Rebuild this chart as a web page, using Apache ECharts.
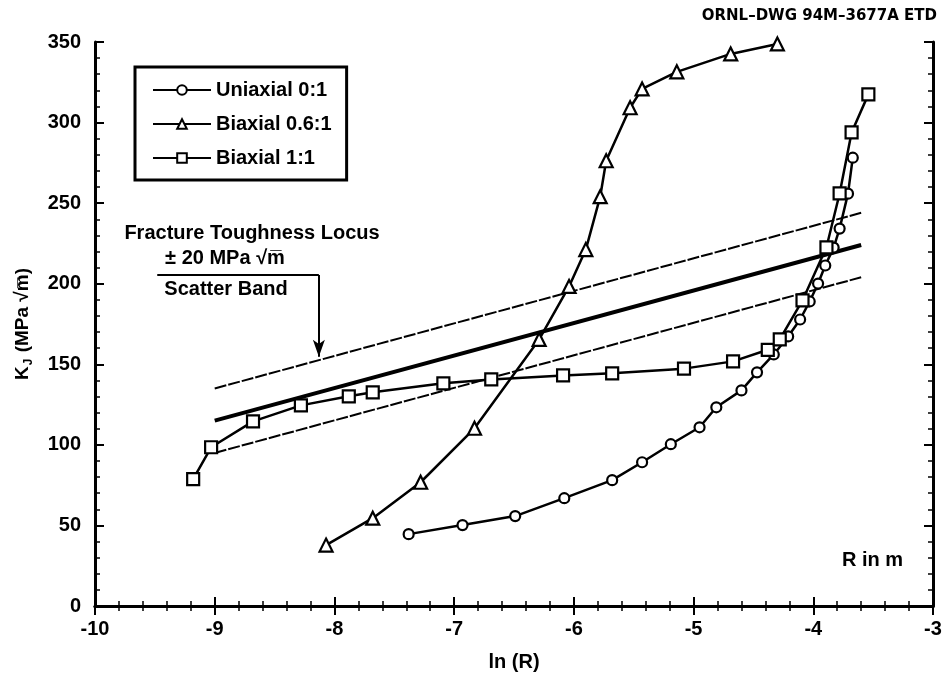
<!DOCTYPE html>
<html>
<head>
<meta charset="utf-8">
<script src="https://cdn.jsdelivr.net/npm/echarts@6/dist/echarts.min.js"></script>
<style>
  html, body { margin: 0; padding: 0; background: #fff; }
  #chart { width: 946px; height: 677px; }
</style>
</head>
<body>
<div id="chart"></div>
<script>
// K_J versus ln(R) for three load ratios
const uniaxialLnR = [-7.38, -6.93, -6.49, -6.08, -5.68, -5.43, -5.19, -4.95, -4.81, -4.60, -4.47,
                     -4.33, -4.21, -4.11, -4.03, -3.96, -3.90, -3.83, -3.78, -3.71, -3.67];
const uniaxialKJ  = [44.6, 50.2, 55.8, 66.9, 78.1, 89.2, 100.4, 110.9, 123.3, 133.8, 145.0,
                     156.1, 167.3, 177.8, 189.0, 200.1, 211.3, 222.4, 234.2, 255.9, 278.2];

const biaxial06LnR = [-8.07, -7.68, -7.28, -6.83, -6.29, -6.04, -5.90, -5.78, -5.73, -5.53, -5.43,
                      -5.14, -4.69, -4.30];
const biaxial06KJ  = [37.8, 54.5, 76.8, 110.3, 165.4, 198.3, 221.2, 254.0, 276.3, 309.2, 320.9,
                      331.5, 342.6, 348.8];

const biaxial11LnR = [-9.18, -9.03, -8.68, -8.28, -7.88, -7.68, -7.09, -6.69, -6.09, -5.68, -5.08,
                      -4.67, -4.38, -4.28, -4.09, -3.89, -3.78, -3.68, -3.54];
const biaxial11KJ  = [78.7, 98.5, 114.6, 124.5, 130.1, 132.6, 138.2, 140.6, 143.1, 144.4, 147.3,
                      151.8, 159.0, 165.4, 189.6, 222.6, 256.0, 293.9, 317.5];

// Fracture toughness locus and its +/- 20 MPa sqrt(m) scatter band
const locusLnR = [-9.0, -3.6];
const locusKJ  = [115, 224];
const bandHalfWidth = 20;

// Bracket and arrow pointing at the upper edge of the band
const bracketLnR = [-9.48, -8.13, -8.13];
const bracketKJ  = [205.4, 205.4, 154.7];

// Axis ticks
const xTicks = [-10, -9, -8, -7, -6, -5, -4, -3];
const yTicks = [0, 50, 100, 150, 200, 250, 300, 350];

const seriesNames = ['Uniaxial 0:1', 'Biaxial 0.6:1', 'Biaxial 1:1'];

const zip = (xs, ys) => xs.map((x, i) => [x, ys[i]]);
const FONT = '"Liberation Sans", Arial, Helvetica, sans-serif';
const INK = '#000';

// Ticks point into the plotting area on all four sides (negative length flips them inward)
const axisCommon = {
  type: 'value',
  axisLine: { show: true, lineStyle: { color: INK, width: 3 } },
  axisTick: { show: true, inside: false, length: -9, lineStyle: { color: INK, width: 2 } },
  minorTick: { show: true, splitNumber: 5, length: -5, lineStyle: { color: INK, width: 1.5 } },
  splitLine: { show: false },
  minorSplitLine: { show: false }
};

const chart = echarts.init(document.getElementById('chart'), null, { renderer: 'canvas' });

const symbolSeries = (name, xs, ys, symbol, size) => ({
  name: name,
  type: 'line',
  data: zip(xs, ys),
  symbol: symbol,
  symbolSize: size,
  showAllSymbol: true,
  z: 5,
  lineStyle: { color: INK, width: 2.5 },
  itemStyle: { color: '#fff', borderColor: INK, borderWidth: 2.2 },
  emphasis: { disabled: true },
  animation: false
});

const bandLine = (offset, style, width, extra) => Object.assign({
  type: 'line',
  data: zip(locusLnR, locusKJ.map(v => v + offset)),
  symbol: 'none',
  z: 2,
  lineStyle: { color: INK, width: width, type: style },
  emphasis: { disabled: true },
  silent: true,
  animation: false
}, extra || {});

const bracketPts = zip(bracketLnR, bracketKJ);

chart.setOption({
  animation: false,
  backgroundColor: '#fff',
  grid: { left: 95, right: 13, top: 42, bottom: 71, containLabel: false },
  xAxis: [
    Object.assign({}, axisCommon, {
      position: 'bottom', min: xTicks[0], max: xTicks[xTicks.length - 1], interval: 1,
      axisLabel: { color: INK, fontFamily: FONT, fontWeight: 'bold', fontSize: 20, margin: 13 },
      name: 'ln (R)', nameLocation: 'middle', nameGap: 46,
      nameTextStyle: { color: INK, fontFamily: FONT, fontWeight: 'bold', fontSize: 20 }
    }),
    Object.assign({}, axisCommon, {
      position: 'top', min: xTicks[0], max: xTicks[xTicks.length - 1], interval: 1,
      axisLabel: { show: false }
    })
  ],
  yAxis: [
    Object.assign({}, axisCommon, {
      position: 'left', min: yTicks[0], max: yTicks[yTicks.length - 1], interval: 50,
      axisLabel: { color: INK, fontFamily: FONT, fontWeight: 'bold', fontSize: 20, margin: 14 },
      name: '{k|K}{j|J}{k| (MPa √m\u0305)}', nameLocation: 'middle', nameGap: 60, nameRotate: 90,
      nameTextStyle: {
        rich: {
          k: { color: INK, fontFamily: FONT, fontWeight: 'bold', fontSize: 19, lineHeight: 24, verticalAlign: 'middle' },
          j: { color: INK, fontFamily: FONT, fontWeight: 'bold', fontSize: 12, lineHeight: 24, verticalAlign: 'bottom', padding: [0, 1, 0, 1] }
        }
      }
    }),
    Object.assign({}, axisCommon, {
      position: 'right', min: yTicks[0], max: yTicks[yTicks.length - 1], interval: 50,
      axisLabel: { show: false }
    })
  ],
  legend: {
    data: seriesNames,
    orient: 'vertical',
    left: 135, top: 67,
    padding: [11, 15, 10, 17],
    itemGap: 10,
    itemWidth: 58,
    itemHeight: 12,
    borderColor: INK,
    borderWidth: 3,
    borderRadius: 0,
    backgroundColor: '#fff',
    selectedMode: false,
    textStyle: { color: INK, fontFamily: FONT, fontWeight: 'bold', fontSize: 20, lineHeight: 24 }
  },
  series: [
    bandLine(bandHalfWidth, [12, 2], 2, {
      markLine: {
        silent: true,
        animation: false,
        symbol: ['none', 'arrow'],
        symbolSize: [9, 17],
        label: { show: false },
        lineStyle: { color: INK, width: 2, type: 'solid' },
        data: [
          [{ coord: bracketPts[0], symbol: 'none' }, { coord: bracketPts[1], symbol: 'none' }],
          [{ coord: bracketPts[1], symbol: 'none' }, { coord: bracketPts[2], symbol: 'arrow' }]
        ]
      }
    }),
    bandLine(0, 'solid', 4),
    bandLine(-bandHalfWidth, [12, 2], 2),
    symbolSeries(seriesNames[0], uniaxialLnR, uniaxialKJ, 'circle', 10),
    symbolSeries(seriesNames[1], biaxial06LnR, biaxial06KJ, 'triangle', 13),
    symbolSeries(seriesNames[2], biaxial11LnR, biaxial11KJ, 'rect', 12)
  ],
  graphic: [
    { type: 'text', x: 937, y: 16, silent: true,
      style: { text: 'ORNL–DWG 94M–3677A ETD', fill: INK, font: 'bold 15px "DejaVu Sans", ' + FONT,
               textAlign: 'right', textVerticalAlign: 'middle' } },
    { type: 'text', x: 252, y: 233, silent: true,
      style: { text: 'Fracture Toughness Locus', fill: INK, font: 'bold 20px ' + FONT,
               textAlign: 'center', textVerticalAlign: 'middle' } },
    { type: 'text', x: 225, y: 258, silent: true,
      style: { text: '± 20 MPa √m\u0305', fill: INK, font: 'bold 20px ' + FONT,
               textAlign: 'center', textVerticalAlign: 'middle' } },
    { type: 'text', x: 226, y: 289, silent: true,
      style: { text: 'Scatter Band', fill: INK, font: 'bold 20px ' + FONT,
               textAlign: 'center', textVerticalAlign: 'middle' } },
    { type: 'text', x: 903, y: 560, silent: true,
      style: { text: 'R in m', fill: INK, font: 'bold 20px ' + FONT,
               textAlign: 'right', textVerticalAlign: 'middle' } }
  ]
});
</script>
</body>
</html>
